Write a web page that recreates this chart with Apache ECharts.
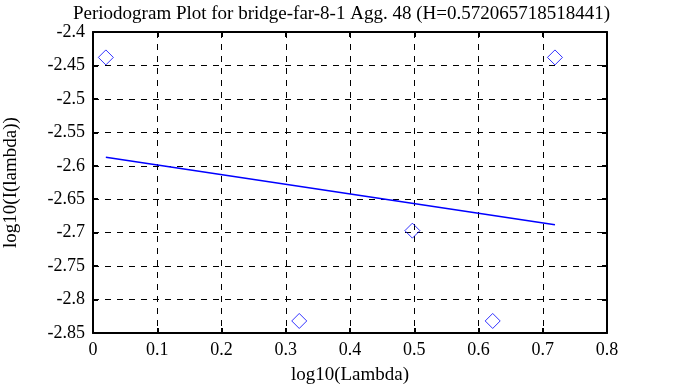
<!DOCTYPE html>
<html><head><meta charset="utf-8">
<script src="https://cdn.jsdelivr.net/npm/echarts@6/dist/echarts.min.js"></script>
<style>html,body{margin:0;padding:0;background:#fff}#c{width:683px;height:387px}</style>
</head><body><div id="c"></div>
<script>
const titleText = 'Periodogram Plot for bridge-far-8-1 Agg. 48 (H=0.572065718518441)';
const xName = 'log10(Lambda)';
const yName = 'log10(I(lambda))';
const pointsX = [0.0200, 0.3210, 0.4971, 0.6221, 0.7190];
const pointsY = [-2.438, -2.832, -2.697, -2.832, -2.438];
const fitX = [0.0200, 0.7190];
const fitY = [-2.5873, -2.6880];
const FONT = 'Liberation Serif';
const chart = echarts.init(document.getElementById('c'), null, {renderer:'canvas'});
const axisCommon = {
  axisLine:{show:true, onZero:false, lineStyle:{color:'#000', width:2}},
  axisTick:{show:true, inside:true, length:5, lineStyle:{color:'#000', width:2}},
  splitLine:{show:false}
};
chart.setOption({
  animation:false,
  backgroundColor:'#fff',
  title:{text:titleText, left:'center', top:0,
    textStyle:{fontFamily:FONT, fontSize:19, fontWeight:'normal', color:'#000'}},
  grid:{left:93, right:76, top:32, bottom:54, outerBoundsMode:'none', containLabel:false},
  xAxis:[
    Object.assign({type:'value', min:0, max:0.8, interval:0.1, position:'bottom',
      name:xName, nameLocation:'middle', nameGap:33,
      nameTextStyle:{fontFamily:FONT, fontSize:19, color:'#000'},
      axisLabel:{fontFamily:FONT, fontSize:18, color:'#000', margin:8,
        formatter:v=>String(Math.round(v*10)/10)},
      }, axisCommon, {splitLine:{show:true, lineStyle:{color:'#000', type:[6,6], width:1}}}),
    Object.assign({type:'value', min:0, max:0.8, interval:0.1, position:'top',
      axisLabel:{show:false}}, axisCommon)
  ],
  yAxis:[
    Object.assign({type:'value', min:-2.85, max:-2.4, interval:0.05, position:'left',
      name:yName, nameLocation:'middle', nameGap:72, nameRotate:90,
      nameTextStyle:{fontFamily:FONT, fontSize:19, color:'#000'},
      axisLabel:{fontFamily:FONT, fontSize:18, color:'#000', margin:8,
        formatter:v=>String(Math.round(v*100)/100)},
      }, axisCommon, {splitLine:{show:true, lineStyle:{color:'#000', type:[6,6], width:1}}}),
    Object.assign({type:'value', min:-2.85, max:-2.4, interval:0.05, position:'right',
      axisLabel:{show:false}}, axisCommon)
  ],
  series:[
    {type:'scatter', xAxisIndex:0, yAxisIndex:0,
      data:pointsX.map((x,i)=>[x, pointsY[i]]),
      symbol:'diamond', symbolSize:[15,15],
      itemStyle:{color:'transparent', borderColor:'#0000ff', borderWidth:1}},
    {type:'line', xAxisIndex:0, yAxisIndex:0,
      data:fitX.map((x,i)=>[x, fitY[i]]),
      showSymbol:false, symbol:'none',
      lineStyle:{color:'#0000ff', width:1.5}}
  ]
});
</script></body></html>
